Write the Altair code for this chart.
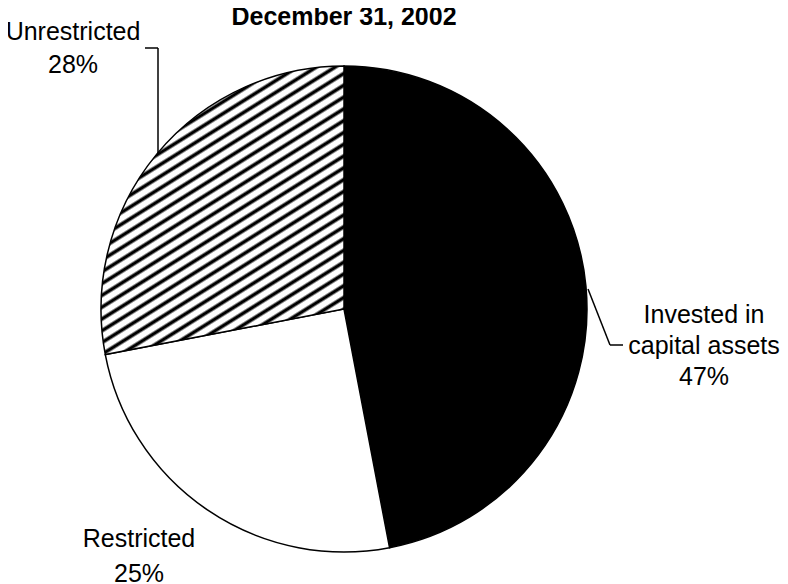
import math
import altair as alt
import pandas as pd

# ---- data ----
names = ["Invested in capital assets", "Restricted", "Unrestricted"]
values = [47, 25, 28]
slice_order = [0, 1, 2]
label_lines = [["Invested in", "capital assets", "47%"],
               ["Restricted", "25%"],
               ["Unrestricted", "28%"]]
title_text = "December 31, 2002"

df = pd.DataFrame({"name": names, "value": values, "order": slice_order})

# ---- geometry / style ----
CX, CY, R = 336, 301, 243
FONT = "Liberation Sans"

# hatch pattern as a striped linear gradient (objectBoundingBox units)
start_frac = (values[0] + values[1]) / sum(values)
a = 2 * math.pi * start_frac
bw = R
bh = R - R * math.cos(a)
th = math.radians(32)
period = 10.0
dx, dy = math.sin(th) / bh, math.cos(th) / bw
k = (dx + dy) / (dx * dx + dy * dy)
L = bw * math.sin(th) + bh * math.cos(th)
n = int(math.ceil(L / period))
stops = []
prof = [(0.0, "#ffffff"), (0.22, "#ffffff"), (0.42, "#000000"),
        (0.58, "#000000"), (0.78, "#ffffff")]
for i in range(n):
    for off, col in prof:
        o = (i + off) * period / L
        if o <= 1:
            stops.append({"offset": round(o, 5), "color": col})
stops.append({"offset": 1, "color": "#ffffff"})
hatch = {"gradient": "linear", "x1": 0, "y1": 0,
         "x2": round(k * dx, 5), "y2": round(k * dy, 5), "stops": stops}

fill_def = {
    "condition": [
        {"test": f"datum.name === '{names[0]}'", "value": "#000000"},
        {"test": f"datum.name === '{names[2]}'", "value": hatch},
    ],
    "value": "#ffffff",
}

pie = alt.Chart(df).mark_arc(radius=R, stroke="black", strokeWidth=1.5).encode(
    theta=alt.Theta("value:Q", stack=True),
    order=alt.Order("order:Q"),
    fill=fill_def,
    x=alt.value(CX),
    y=alt.value(CY),
)

one = alt.Data(values=[{}])


def rule(x1, y1, x2, y2):
    return alt.Chart(one).mark_rule(color="black", strokeWidth=1.5).encode(
        x=alt.value(x1), y=alt.value(y1), x2=alt.value(x2), y2=alt.value(y2))


def label(lines, x, y, lh, size=25, bold=False):
    return alt.Chart(one).mark_text(
        text=lines, font=FONT, fontSize=size, fontWeight="bold" if bold else "normal",
        align="center", baseline="alphabetic", lineHeight=lh, color="black",
    ).encode(x=alt.value(x), y=alt.value(y))


layers = [
    pie,
    rule(137, 40, 150, 40),
    rule(150, 40, 150, 145),
    rule(580, 281, 602, 337),
    rule(602, 337, 615, 337),
    label(label_lines[2], 65, 32, 33),
    label(label_lines[0], 696, 315, 31),
    label(label_lines[1], 131, 539, 35),
    label([title_text], 336, 17, 25, size=25, bold=True),
]

chart = alt.layer(*layers).properties(
    width=772, height=576, padding=0, autosize="none", background="white"
).configure_view(stroke=None)

chart.save("out.html", embed_options={"renderer": "svg", "actions": False})
